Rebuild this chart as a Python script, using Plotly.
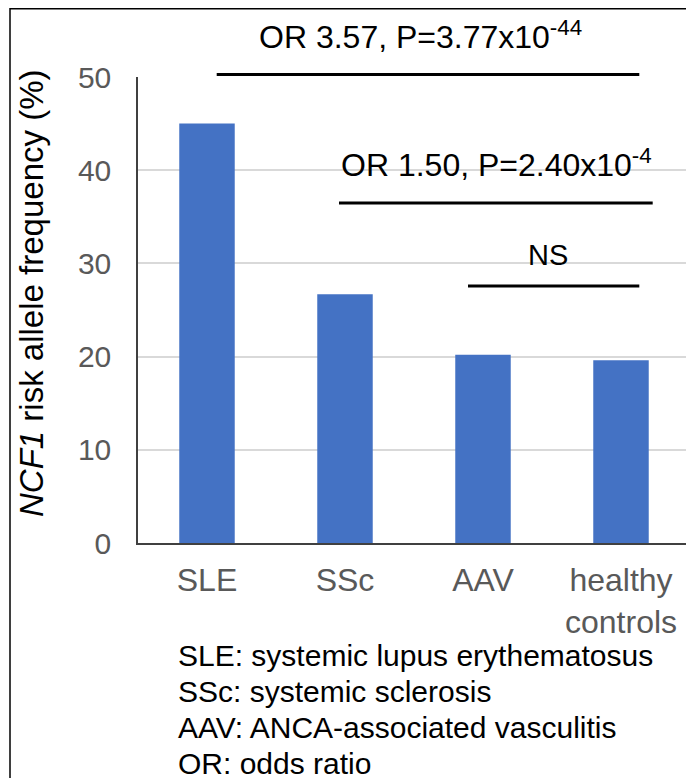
import plotly.graph_objects as go

# ---- data ----
categories = ["SLE", "SSc", "AAV", "healthy<br>controls"]
frequency = [45.0, 26.7, 20.2, 19.6]
y_ticks = [0, 10, 20, 30, 40, 50]
comparison_labels = ["OR 3.57, P=3.77x10<sup>-44</sup>",
                     "OR 1.50, P=2.40x10<sup>-4</sup>",
                     "NS"]
footnotes = ["SLE: systemic lupus erythematosus",
             "SSc: systemic sclerosis",
             "AAV: ANCA-associated vasculitis",
             "OR: odds ratio"]

# ---- layout geometry (pixels, page coordinates; the page body adds an 8px offset) ----
OFF = 8
W, H = 694 - OFF, 778 - OFF
PLOT_L, PLOT_R, PLOT_T, PLOT_B = 138, 690, 77, 543   # page coords
L, R, T, B = PLOT_L - OFF, W - (PLOT_R - OFF), PLOT_T - OFF, H - (PLOT_B - OFF)
PW, PH = W - L - R, H - T - B
FONT = "Liberation Sans, Arial, sans-serif"


def px(xp):
    return (xp - PLOT_L) / PW


def py(yp):
    return (PLOT_B - yp) / PH


fig = go.Figure()
fig.add_trace(go.Bar(x=categories, y=frequency, marker=dict(color="#4472C4", line=dict(width=0)),
                     showlegend=False, hoverinfo="x+y"))

# bracket lines (x0px, x1px, ypx) and label positions (xpx, ypx)
brackets = [(216.7, 639.3, 74.5), (339.0, 652.7, 203.0), (468.0, 639.3, 286.0)]
label_pos = [(421, 35), (496, 163), (548, 255)]
shapes = []
annotations = []
for (x0, x1, yy), (lx, ly), txt in zip(brackets, label_pos, comparison_labels):
    shapes.append(dict(type="line", xref="paper", yref="paper", x0=px(x0), x1=px(x1),
                       y0=py(yy), y1=py(yy), line=dict(color="black", width=3)))
    annotations.append(dict(text=txt, xref="paper", yref="paper", x=px(lx), y=py(ly),
                            xanchor="center", yanchor="middle", showarrow=False,
                            font=dict(family=FONT, size=32 if txt != "NS" else 29, color="black")))

# frame
shapes.append(dict(type="rect", xref="paper", yref="paper", x0=px(10), x1=px(760), y0=py(OFF + 0.8), y1=py(900),
                   line=dict(color="black", width=1.5), fillcolor="rgba(0,0,0,0)", layer="below"))

# y axis title
annotations.append(dict(text="<i>NCF1</i> risk allele frequency (%)", xref="paper", yref="paper",
                        x=px(31), y=py(294), textangle=-90, showarrow=False,
                        xanchor="center", yanchor="middle",
                        font=dict(family=FONT, size=33, color="black")))

# footnotes
foot_y = [655, 691, 727, 763]
for txt, fy in zip(footnotes, foot_y):
    annotations.append(dict(text=txt, xref="paper", yref="paper", x=px(176), y=py(fy),
                            xanchor="left", yanchor="middle", showarrow=False,
                            font=dict(family=FONT, size=30, color="black")))

fig.update_layout(
    width=W, height=H,
    margin=dict(l=L, r=R, t=T, b=B),
    paper_bgcolor="white", plot_bgcolor="white",
    bargap=0.598,
    shapes=shapes, annotations=annotations,
    xaxis=dict(showline=True, linecolor="#404040", linewidth=1.5, showgrid=False,
               tickfont=dict(family=FONT, size=32, color="#595959"),
               ticks="", ticklabelstandoff=8),
    yaxis=dict(range=[0, 50], tickvals=y_ticks, showline=True, linecolor="#404040", linewidth=1.5,
               showgrid=True, gridcolor="#d9d9d9", gridwidth=1.5, zeroline=False,
               tickfont=dict(family=FONT, size=30, color="#595959"),
               ticks="", ticklabelstandoff=19),
)

fig.write_html("out.html")
